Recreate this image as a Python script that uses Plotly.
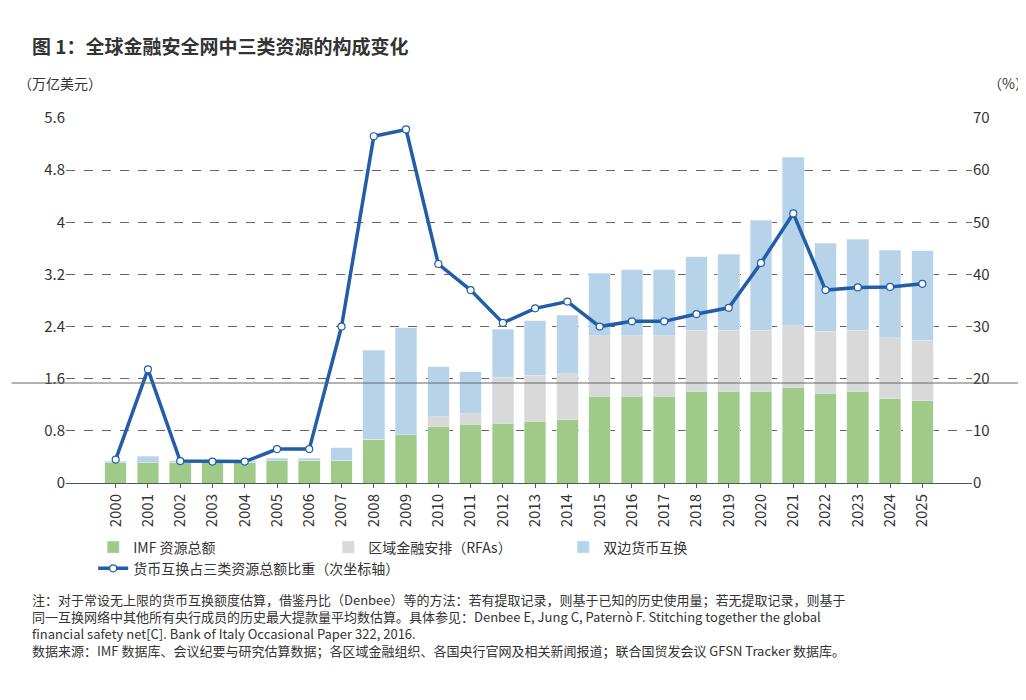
import plotly.graph_objects as go

years = [str(y) for y in range(2000, 2026)]
imf = [0.31, 0.31, 0.32, 0.31, 0.32, 0.34, 0.35, 0.35, 0.67, 0.74, 0.87, 0.90, 0.92, 0.95, 0.97,
       1.33, 1.33, 1.33, 1.41, 1.41, 1.41, 1.47, 1.38, 1.41, 1.29, 1.26]
rfa = [0.0, 0.0, 0.0, 0.0, 0.0, 0.0, 0.0, 0.0, 0.0, 0.0, 0.15, 0.16, 0.70, 0.70, 0.71,
       0.93, 0.93, 0.93, 0.93, 0.93, 0.93, 0.94, 0.95, 0.93, 0.94, 0.93]
swap = [0.02, 0.10, 0.02, 0.01, 0.02, 0.04, 0.03, 0.19, 1.37, 1.64, 0.76, 0.65, 0.74, 0.84, 0.89,
        0.96, 1.01, 1.01, 1.13, 1.17, 1.69, 2.59, 1.35, 1.40, 1.34, 1.37]
share = [4.5, 21.8, 4.2, 4.1, 4.1, 6.5, 6.5, 30, 66.5, 67.8, 42, 37, 30.7, 33.5, 34.8,
         30, 31, 31, 32.4, 33.6, 42.2, 51.7, 37, 37.5, 37.6, 38.2]

font = "Noto Sans CJK SC, Noto Sans, sans-serif"
fig = go.Figure()
fig.add_trace(go.Bar(x=years, y=imf, name="IMF 资源总额", marker_color="#a0ca88"))
fig.add_trace(go.Bar(x=years, y=rfa, name="区域金融安排（RFAs）", marker_color="#d9d9d9"))
fig.add_trace(go.Bar(x=years, y=swap, name="双边货币互换", marker_color="#b7d3ea"))
fig.add_trace(go.Scatter(x=years, y=share, yaxis="y2", name="货币互换占三类资源总额比重（次坐标轴）",
                         mode="lines+markers", line=dict(color="#225ea8", width=3.5),
                         marker=dict(size=7, color="white", line=dict(color="#225ea8", width=1.2))))

H = 365
fig.update_layout(
    width=1026, height=700, barmode="stack", bargap=0.33,
    plot_bgcolor="white", paper_bgcolor="white",
    font=dict(family=font, size=15, color="#333"),
    margin=dict(l=58, r=62, t=110, b=225, autoexpand=False),
    xaxis=dict(tickangle=-90, showline=True, linecolor="#555", ticks="outside", ticklen=4,
               tickcolor="#555", tickfont=dict(size=15), automargin=False),
    yaxis=dict(range=[0, 5.6], tickvals=[0, 0.8, 1.6, 2.4, 3.2, 4, 4.8, 5.6],
               ticktext=["0", "0.8", "1.6", "2.4", "3.2", "4", "4.8", "5.6"], automargin=False,
               showgrid=True, gridcolor="#666", griddash="dash", gridwidth=1, zeroline=False),
    yaxis2=dict(range=[0, 70], dtick=10, overlaying="y", side="right", showgrid=False,
                zeroline=False, automargin=False),
    legend=dict(orientation="h", x=0.03, y=-75 / H, xanchor="left", yanchor="middle",
                font=dict(size=14), traceorder="normal", entrywidth=190),
)

fig.add_shape(type="line", xref="paper", yref="paper", x0=-0.06, x1=1.06, y0=100 / H, y1=100 / H,
              line=dict(color="#666", width=1))
fig.add_annotation(text="<b>图 1：全球金融安全网中三类资源的构成变化</b>", xref="paper", yref="paper",
                   x=-0.04, y=(475 - 38) / H - 1 + 1, xanchor="left", yanchor="middle",
                   showarrow=False, font=dict(size=19))
fig.add_annotation(text="（万亿美元）", xref="paper", yref="paper", x=-0.055, y=(475 - 75) / H,
                   xanchor="left", yanchor="middle", showarrow=False, font=dict(size=14))
fig.add_annotation(text="（%）", xref="paper", yref="paper", x=1.065, y=(475 - 75) / H,
                   xanchor="right", yanchor="middle", showarrow=False, font=dict(size=14))
note = ("注：对于常设无上限的货币互换额度估算，借鉴丹比（Denbee）等的方法：若有提取记录，则基于已知的历史使用量；若无提取记录，则基于<br>"
        "同一互换网络中其他所有央行成员的历史最大提款量平均数估算。具体参见：Denbee E, Jung C, Paternò F. Stitching together the global<br>"
        "financial safety net[C]. Bank of Italy Occasional Paper 322, 2016.<br>"
        "数据来源：IMF 数据库、会议纪要与研究估算数据；各区域金融组织、各国央行官网及相关新闻报道；联合国贸发会议 GFSN Tracker 数据库。")
fig.add_annotation(text=note, xref="paper", yref="paper", x=-0.04, y=-105 / H, xanchor="left",
                   yanchor="top", align="left", showarrow=False, font=dict(size=13))

fig.write_html("out.html")
